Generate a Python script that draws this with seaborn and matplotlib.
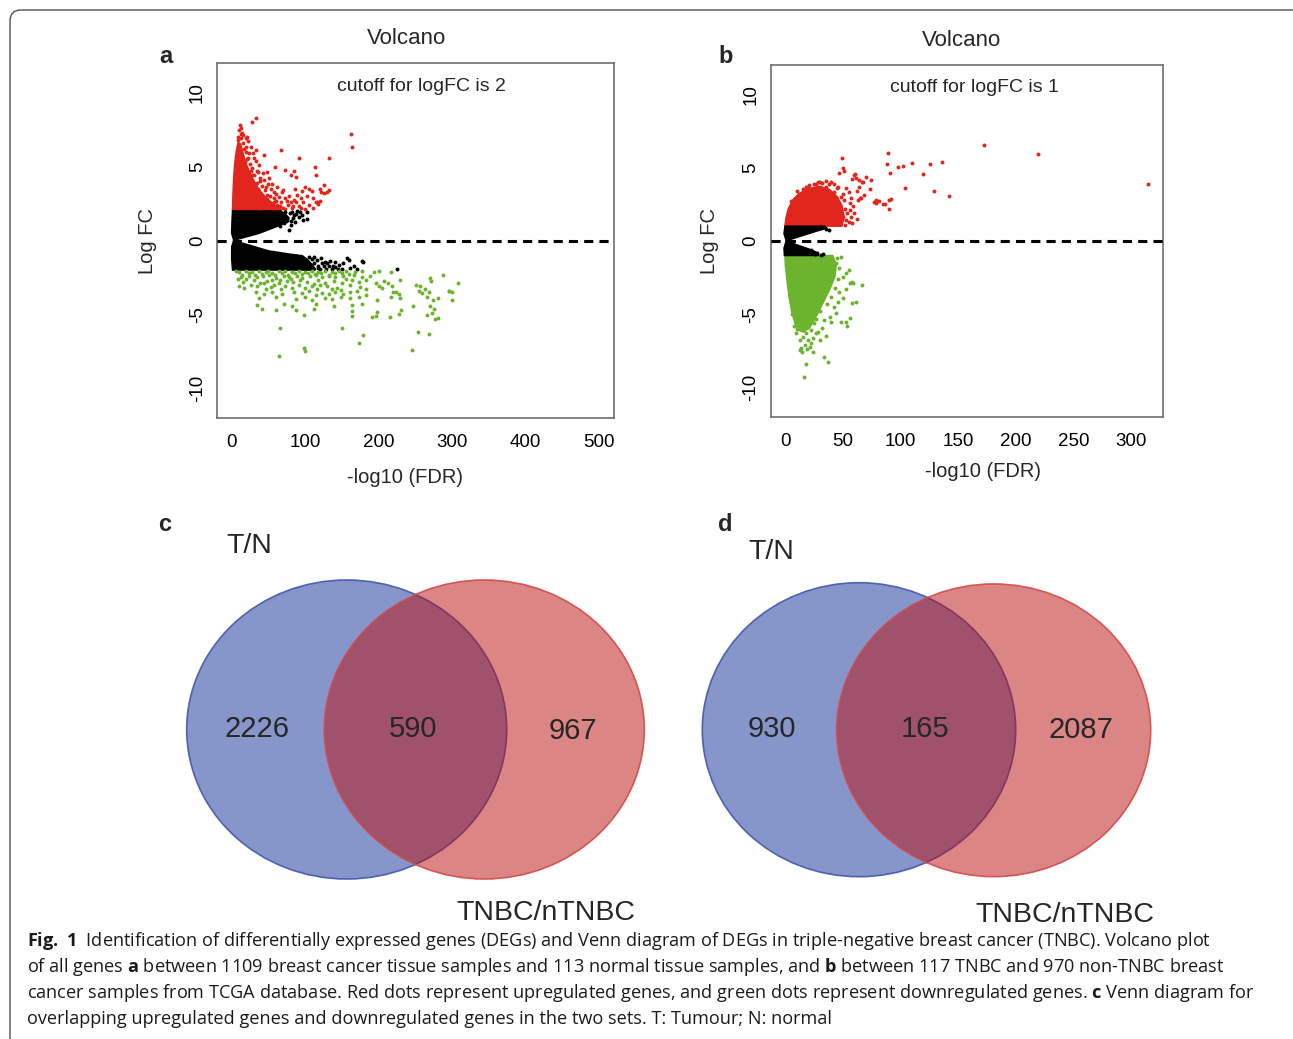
import matplotlib
matplotlib.use("Agg")
import matplotlib.pyplot as plt
from matplotlib.patches import Ellipse, FancyBboxPatch
import seaborn as sns
import pandas as pd

# ======================= DATA =======================
# ---- Panel a : T/N, cutoff |logFC| = 2 ----
# dense cores (outline of the solid point clouds), (-log10 FDR, logFC)
a_red_core = [(1.5, 2.03), (2.0, 3.0), (3.0, 4.2), (4.5, 5.2), (6.5, 6.0), (9, 6.6), (12, 6.5),
              (15, 5.9), (20, 5.1), (27, 4.3), (36, 3.5), (46, 2.9), (58, 2.4), (68, 2.03)]
a_black_up_core = [(1.5, 1.98), (66, 1.98), (72, 1.8), (77, 1.55), (77, 1.3), (70, 1.15), (60, 0.94),
                   (37, 0.5), (15, 0.2), (3, 0.04), (0.3, 0.5), (0.8, 1.3)]
a_black_dn_core = [(3, -0.04), (25, -0.35), (50, -0.72), (80, -0.95), (96, -1.05), (104, -1.35),
                   (110, -1.7), (114, -1.98), (1.5, -1.98), (0.3, -1.2), (0.5, -0.4)]
a_red_pts = [(32.6, 8.3), (27, 8.0), (11, 7.8), (12, 7.6), (10.5, 7.5), (162, 7.2), (163, 6.3), (66.5, 6.1),
             (91, 5.6), (132, 5.6), (113, 5.0), (59, 5.0), (72.5, 4.8), (85, 4.7), (88, 4.3), (114, 4.4),
             (44, 5.8), (33.5, 6.1), (19, 6.9), (21, 7.0), (22, 6.7), (125, 3.75), (130, 3.26), (122, 3.26),
             (114, 2.63), (117, 2.5), (100, 3.64), (105, 3.48), (109, 3.35), (96, 3.35), (89, 3.08),
             (85, 2.74), (80, 2.59), (73, 2.86), (69, 3.26), (64, 2.97), (60, 3.13), (55, 3.8), (51, 4.2),
             (46, 3.64), (42, 4.54), (37, 5.1), (62, 2.4), (76, 2.4), (64, 2.18), (82, 2.18), (91, 2.3),
             (100, 2.14), (105, 2.4), (80, 4.4), (125, 3.2), (133, 3.4), (116, 2.6), (25, 5.2), (28, 4.4),
             (35, 3.9), (30, 3.4), (40, 3.0), (48, 2.8), (52, 2.5), (38, 2.2), (45, 3.4), (22, 5.6),
             (17, 6.2), (15, 6.6), (24, 4.1), (34, 4.7), (28, 2.9), (55, 2.2), (67, 2.6), (70, 2.2),
             (58, 2.9), (53, 3.5), (30, 5.6), (26, 6.3), (18, 5.3), (39, 4.2), (94, 2.9), (110, 2.9),
             (103, 3.0), (97, 2.6), (86, 3.5), (120, 3.5),
             (62, 3.6), (57, 2.6), (48, 3.1), (66, 2.3), (72, 2.1), (75, 2.7), (43, 2.6), (36, 3.5),
             (31, 4.4), (27, 4.9), (23, 5.9), (20, 6.3), (16, 7.1), (14, 7.3), (12, 7.2), (38, 4.0),
             (44, 4.1), (50, 3.8), (33, 5.4), (29, 5.9), (36, 4.6), (48, 4.6), (57, 3.3), (70, 3.4),
             (78, 3.0), (84, 2.3), (88, 2.6), (94, 2.2), (110, 2.2), (120, 2.7), (41, 3.7), (52, 3.0),
             (60, 2.7), (26, 4.7), (21, 5.5), (19, 6.0), (13, 6.9), (8, 7.0), (9, 6.8)]
a_black_pts = [(82, 1.96), (89, 2.0), (97, 1.4), (102, 1.44), (80, 1.06), (78, 0.72), (85, 1.73), (75, 1.5),
               (71, 1.17), (88, 1.8), (92, 1.6), (66, 1.0), (103, 1.95), (79, 1.85), (121, -1.15), (127, -1.42),
               (134, -1.37), (141, -1.42), (132, -1.75), (141, -1.82), (157, -1.15), (159, -1.3), (161, -1.86),
               (166, -1.75), (177, -1.37), (225, -1.93), (118, -1.75), (109, -1.22), (105, -1.1), (146, -1.64),
               (123, -1.55), (112, -1.1), (150, -1.95), (170, -1.9), (136, -1.9), (128, -1.95), (178, -1.44),
               (64, 1.9), (68, 1.6), (72, 1.9), (74, 1.3), (69, 1.35), (83, 1.55), (86, 1.25), (93, 1.9),
               (95, 1.75), (81, 1.3), (98, -1.3), (102, -1.6), (108, -1.9), (112, -1.5), (116, -1.3),
               (120, -1.95), (125, -1.7), (130, -1.55), (138, -1.7), (145, -1.9), (152, -1.5), (100, -1.9),
               (95, -1.2), (88, -1.05), (117, -1.85), (106, -1.75)]
a_green_pts = [(6, -2.08), (10, -2.15), (14, -2.3), (19, -2.05), (23, -2.22), (28, -2.12), (32, -2.35), (37, -2.06),
               (41, -2.27), (46, -2.14), (50, -2.04), (55, -2.2), (59, -2.33), (64, -2.08), (68, -2.18), (73, -2.05),
               (77, -2.3), (82, -2.12), (86, -2.22), (91, -2.06), (95, -2.28), (100, -2.1), (104, -2.2), (109, -2.04),
               (113, -2.26), (118, -2.12), (122, -2.2), (127, -2.06), (132, -2.3), (137, -2.1), (141, -2.22),
               (146, -2.05), (150, -2.17), (155, -2.08), (160, -2.25), (168, -2.1), (177, -2.03), (193, -2.12),
               (201, -2.08), (216, -2.15),
               (12, -2.45), (24, -2.38), (35, -2.5), (42, -2.42), (51, -2.36), (60, -2.55), (71, -2.4), (78, -2.48),
               (89, -2.37), (96, -2.52), (107, -2.41), (114, -2.35), (123, -2.47), (132, -2.39), (141, -2.5),
               (152, -2.42), (166, -2.36), (177, -2.48),
               (15, -2.8), (30, -2.7), (39, -2.85), (48, -2.72), (55, -2.66), (64, -2.9), (75, -2.74), (84, -2.82),
               (93, -2.68), (102, -2.78), (112, -2.95), (118, -2.7), (127, -2.84), (139, -2.72), (150, -2.88),
               (164, -2.7), (173, -2.8), (182, -2.65), (207, -2.76), (213, -2.9), (229, -2.7),
               (10, -3.1), (17, -3.2), (35, -3.05), (46, -3.25), (53, -3.12), (67, -3.3), (73, -3.08), (82, -3.18),
               (100, -3.22), (109, -3.06), (116, -3.3), (130, -3.1), (143, -3.2), (148, -3.35), (161, -3.04),
               (175, -3.15), (182, -3.28), (200, -3.1), (204, -3.2), (218, -3.05), (256, -3.05), (263, -3.3),
               (33, -3.5), (44, -3.6), (55, -3.45), (69, -3.65), (85, -3.5), (96, -3.58), (105, -3.42), (114, -3.7),
               (123, -3.52), (132, -3.6), (141, -3.48), (152, -3.62), (161, -3.5), (170, -3.4), (182, -3.66),
               (220, -3.5), (227, -3.62), (259, -3.55), (268, -3.45), (295, -3.4),
               (37, -3.9), (60, -3.85), (87, -3.95), (100, -3.82), (109, -4.0), (127, -3.88), (137, -3.95),
               (148, -3.8), (161, -3.92), (173, -3.85), (198, -4.0), (216, -3.8), (229, -3.9), (265, -3.85),
               (274, -4.0), (281, -3.9), (299, -3.5), (308, -2.9),
               (35, -4.35), (71, -4.3), (82, -4.4), (114, -4.3), (139, -4.45), (164, -4.35), (177, -4.28),
               (246, -4.4), (270, -4.45), (300, -4.0),
               (41, -4.65), (60, -4.72), (87, -4.68), (112, -4.6), (164, -4.75), (197, -4.8), (230, -4.7),
               (272, -4.9), (275, -4.6),
               (98, -5.05), (164, -5.1), (191, -5.15), (196, -5.1), (215, -5.2), (228, -5.0), (265, -5.05),
               (277, -5.3), (281, -5.25),
               (66, -5.9), (150, -5.9), (253, -6.2), (178, -6.4), (269, -6.3), (173, -6.9), (99, -7.3),
               (100, -7.5), (245, -7.4), (65, -7.8), (287, -2.3), (270, -2.55), (271, -2.75), (250, -3.0),
               (255, -3.4), (223, -3.5), (296, -3.4),
               (8, -2.6), (20, -2.6), (26, -3.0), (44, -2.9), (58, -3.0), (66, -2.7), (80, -2.6), (92, -3.0),
               (120, -3.0), (136, -3.3), (156, -2.6), (188, -2.4), (196, -2.9)]

# ---- Panel b : TNBC/nTNBC, cutoff |logFC| = 1 ----
b_red_core = [(0, 1.02), (1, 1.6), (3, 2.2), (7, 2.8), (12, 3.2), (20, 3.55), (30, 3.7), (38, 3.5),
              (45, 3.0), (49, 2.4), (51, 1.6), (49, 1.02)]
b_black_up_core = [(0, 0.98), (34, 0.98), (36, 0.88), (27, 0.68), (15, 0.38), (1, 0.03), (-0.8, 0.5)]
b_black_dn_core = [(1, -0.03), (12, -0.35), (22, -0.62), (27, -0.8), (29, -0.98), (-0.5, -0.98), (-0.8, -0.5)]
b_green_core = [(0, -1.02), (41, -1.02), (44, -1.6), (43, -2.4), (39, -3.2), (34, -4.0), (29, -4.8),
                (25, -5.4), (21, -5.9), (16, -6.2), (12, -6.1), (9, -5.7), (6, -4.9), (3.5, -3.8),
                (1.5, -2.5), (0.3, -1.6)]
b_red_pts = [(172.7, 6.52), (219, 5.95), (314.8, 3.87), (89.2, 6.02), (49.2, 5.67), (88.2, 5.25), (97.9, 5.05),
             (102.3, 5.1), (109.6, 5.3), (125.5, 5.23), (136.2, 5.4), (119.1, 4.55), (90.7, 4.6), (103.7, 3.64),
             (129.2, 3.39), (142, 3.07), (90, 2.8), (91.5, 2.85), (89.6, 2.16), (86.8, 2.5), (78.7, 2.6),
             (81, 2.7), (74.8, 4.14), (70.4, 4.36), (66.6, 4.0), (49.9, 5.0), (50.8, 4.8), (46.5, 4.6), (58, 4.2),
             (60, 4.5), (61, 4.3), (62, 3.4), (63.6, 3.7), (65, 2.9), (68, 3.1), (55, 1.3), (53, 1.41), (58, 1.2),
             (50, 1.6), (52, 2.2), (56, 2.6), (48, 3.0), (45, 3.6), (38, 3.9), (30, 4.0), (25, 3.9), (20, 3.6),
             (35, 3.7), (42, 3.3), (55, 3.3), (57, 2.9), (60, 1.9), (47, 2.0), (51, 2.8), (60.3, 4.59),
             (64, 4.14), (73.3, 3.57), (67.5, 4.02), (66, 2.89), (63.2, 2.77), (57.4, 1.64), (56, 2.09),
             (79, 2.77), (76.8, 2.66), (84.9, 2.5), (28.4, 4.0), (21, 3.8), (15.3, 3.57), (12, 3.2), (8, 2.8),
             (52, 1.05), (54, 1.9), (50, 3.2), (46, 3.7), (42, 3.9), (35, 4.1), (27, 3.9), (18, 3.7), (10, 3.4),
             (5, 2.7), (44, 1.5), (59, 2.4), (62, 1.5), (53, 3.6), (40, 4.0), (32, 3.95)]
b_black_pts = [(38, 0.73), (35, 0.8), (30, 0.95), (31, -0.97), (28, -0.85), (24, -0.75), (26, -0.9),
               (22.6, -0.64), (33, -0.92)]
b_green_pts = [(67, -3.02), (59, -2.9), (56, -2.86), (52.5, -2.22), (47, -1.88), (50, -2.45), (58, -4.22),
               (56, -5.29), (53, -5.52), (48.7, -5.52), (44, -4.95), (38.5, -5.18), (40, -5.52), (34, -5.4),
               (32, -5.97), (27, -6.3), (24, -6.65), (19.7, -6.77), (16.8, -7.1), (13.9, -7.34), (12.4, -7.45),
               (9.5, -6.27), (15.3, -6.54), (21.1, -7.22), (24, -7.56), (34, -7.9), (37, -8.25), (17.7, -8.4),
               (16.2, -9.31), (28.4, -6.2), (22.6, -6.09), (12.4, -6.77), (44, -1.5), (46, -2.6), (43, -3.2),
               (40, -3.8), (36, -4.3), (30, -4.8), (27, -5.3), (45, -1.2), (48, -1.1), (42, -2.0), (47, -3.5),
               (50, -3.9), (38, -3.0), (33, -3.5), (29, -4.1), (25, -5.6), (20, -5.9), (15, -6.1), (10, -6.0),
               (18, -6.3), (14.5, -7.6), (19, -7.4), (22, -7.0), (30, -6.8), (35, -6.5), (42, -4.5), (46, -4.2),
               (53, -3.3), (55, -2.0), (61, -4.2), (53.6, -5.8), (57.9, -2.8), (8, -5.8), (6, -5.0)]

# ---- Venn counts ----
venn_c_counts = [2226, 590, 967]
venn_d_counts = [930, 165, 2087]
venn_set_names = ["T/N", "TNBC/nTNBC"]

volcano_titles = ["Volcano", "Volcano"]
cutoff_texts = ["cutoff for logFC is 2", "cutoff for logFC is 1"]
a_xticks = [0, 100, 200, 300, 400, 500]
b_xticks = [0, 50, 100, 150, 200, 250, 300]
yticks = [-10, -5, 0, 5, 10]

caption_lines = [
    r"$\mathbf{Fig.}$ $\mathbf{1}$  Identification of differentially expressed genes (DEGs) and Venn diagram of DEGs in triple-negative breast cancer (TNBC). Volcano plot",
    r"of all genes $\mathbf{a}$ between 1109 breast cancer tissue samples and 113 normal tissue samples, and $\mathbf{b}$ between 117 TNBC and 970 non-TNBC breast",
    r"cancer samples from TCGA database. Red dots represent upregulated genes, and green dots represent downregulated genes. $\mathbf{c}$ Venn diagram for",
    r"overlapping upregulated genes and downregulated genes in the two sets. T: Tumour; N: normal",
]

# ======================= STYLE =======================
sns.set_style("white")
plt.rcParams['font.family'] = ['Liberation Sans', 'DejaVu Sans']
plt.rcParams['mathtext.fontset'] = 'custom'
plt.rcParams['mathtext.rm'] = 'Open Sans'
plt.rcParams['mathtext.bf'] = 'Open Sans:bold'

RED = '#e0261d'
GREEN = '#6cb42e'
BLACK = '#000000'
GRAY = '#6e6e6e'

W, H = 1293, 1039
fig = plt.figure(figsize=(W / 100, H / 100), dpi=100)


def px_axes(l, t, r, b):
    return fig.add_axes([l / W, 1 - b / H, (r - l) / W, (b - t) / H])


def volcano(ax, cores, pts, xlim, xticks, xlab_pos, ylab_pos):
    for color, poly in cores:
        xs, ys = zip(*poly)
        ax.fill(xs, ys, color=color, lw=1.5, ec=color, zorder=2)
    for color, p in pts:
        df = pd.DataFrame(p, columns=['fdr', 'lfc'])
        sns.scatterplot(data=df, x='fdr', y='lfc', color=color, s=8, linewidth=0, ax=ax,
                        legend=False, zorder=3)
    ax.axhline(0, color='black', lw=2.2, dashes=(3, 2), zorder=4)
    ax.set_xlim(*xlim)
    ax.set_ylim(-12, 12)
    ax.set_xticks(xticks)
    ax.set_yticks(yticks)
    ax.set_xticklabels([str(v) for v in xticks])
    ax.set_yticklabels([str(v) for v in yticks])
    for s in ax.spines.values():
        s.set_color(GRAY)
        s.set_linewidth(1.2)
        s.set_visible(True)
    ax.tick_params(axis='both', direction='out', length=5, width=1.0, color=GRAY,
                   labelsize=13.5, labelcolor='black')
    ax.tick_params(axis='x', pad=6.5)
    ax.tick_params(axis='y', pad=3, labelrotation=90)
    for lab in ax.get_yticklabels():
        lab.set_va('center')
    ax.set_xlabel('-log10 (FDR)', fontsize=14.5)
    ax.set_ylabel('Log FC', fontsize=14.5)
    ax.xaxis.set_label_coords(*xlab_pos)
    ax.yaxis.set_label_coords(*ylab_pos)
    ax.grid(False)


ax_a = px_axes(217, 63, 614, 418)
volcano(ax_a,
        [(RED, a_red_core), (BLACK, a_black_up_core), (BLACK, a_black_dn_core)],
        [(RED, a_red_pts), (BLACK, a_black_pts), (GREEN, a_green_pts)],
        (-20, 520), a_xticks, (0.474, -0.141), (-0.151, 0.5))

ax_b = px_axes(770.7, 65, 1163.3, 416.7)
volcano(ax_b,
        [(RED, b_red_core), (GREEN, b_green_core), (BLACK, b_black_up_core), (BLACK, b_black_dn_core)],
        [(RED, b_red_pts), (BLACK, b_black_pts), (GREEN, b_green_pts)],
        (-12.6, 328), b_xticks, (0.541, -0.128), (-0.132, 0.5))

# overlay in pixel coordinates for free text, Venn diagrams and frame
ov = fig.add_axes([0, 0, 1, 1])
ov.set_xlim(0, W)
ov.set_ylim(H, 0)
ov.axis('off')
ov.set_zorder(10)
ov.patch.set_visible(False)

ov.text(406.7, 44, volcano_titles[0], fontsize=16, ha='center', va='baseline')
ov.text(962, 45.7, volcano_titles[1], fontsize=16, ha='center', va='baseline')
ov.text(421.5, 91, cutoff_texts[0], fontsize=14, ha='center', va='baseline')
ov.text(974, 91.7, cutoff_texts[1], fontsize=14, ha='center', va='baseline')
for lab, x, y in [('a', 159, 63), ('b', 718, 63), ('c', 158, 531), ('d', 718, 531)]:
    ov.text(x, y, lab, fontsize=17, fontweight='bold', ha='left', va='baseline')

BLUE_FILL = '#0f2f97'
RED_FILL = '#bb0d0d'
BLUE_EDGE = '#4157ad'
RED_EDGE = '#d24a4a'


def venn(blue_c, red_c, size_b, size_r, counts, num_pos, tn_pos, tnbc_pos):
    ov.add_patch(Ellipse(blue_c, *size_b, fc=BLUE_FILL, alpha=0.5, lw=0))
    ov.add_patch(Ellipse(blue_c, *size_b, fc='none', ec=BLUE_EDGE, lw=1.2, alpha=0.9))
    ov.add_patch(Ellipse(red_c, *size_r, fc=RED_FILL, alpha=0.5, lw=0))
    ov.add_patch(Ellipse(red_c, *size_r, fc='none', ec=RED_EDGE, lw=1.2, alpha=0.9))
    for n, (x, y) in zip(counts, num_pos):
        ov.text(x, y, str(n), fontsize=21, ha='center', va='baseline')
    ov.text(tn_pos[0], tn_pos[1], venn_set_names[0], fontsize=20.5, ha='left', va='baseline')
    ov.text(tnbc_pos[0], tnbc_pos[1], venn_set_names[1], fontsize=20.5, ha='left', va='baseline')


venn((346.7, 729.5), (484.3, 729.5), (320, 299), (320, 299), venn_c_counts,
     [(257.5, 737), (413.5, 737), (573, 739)], (226, 553), (456, 920))
venn((859, 729.7), (993.7, 730.3), (313.4, 294), (314, 292.7), venn_d_counts,
     [(771.5, 737), (925, 737), (1080.5, 738)], (748, 559), (975, 922))

ov.add_patch(FancyBboxPatch((10, 10), 1300, 1100, boxstyle="round,pad=0,rounding_size=11",
                            fc='none', ec='#505050', lw=1.0))

base_fs = 11
caps = []
for i, line in enumerate(caption_lines):
    caps.append(ov.text(27, 946 + 26 * i, line, fontsize=base_fs, family='Open Sans',
                        ha='left', va='baseline', color='#1a1a1a'))
fig.canvas.draw()
r = fig.canvas.get_renderer()
wline = caps[2].get_window_extent(r).width
scale = (1254 - 27) / wline
for t in caps:
    t.set_fontsize(base_fs * scale)

fig.savefig('out.png', dpi=100)
